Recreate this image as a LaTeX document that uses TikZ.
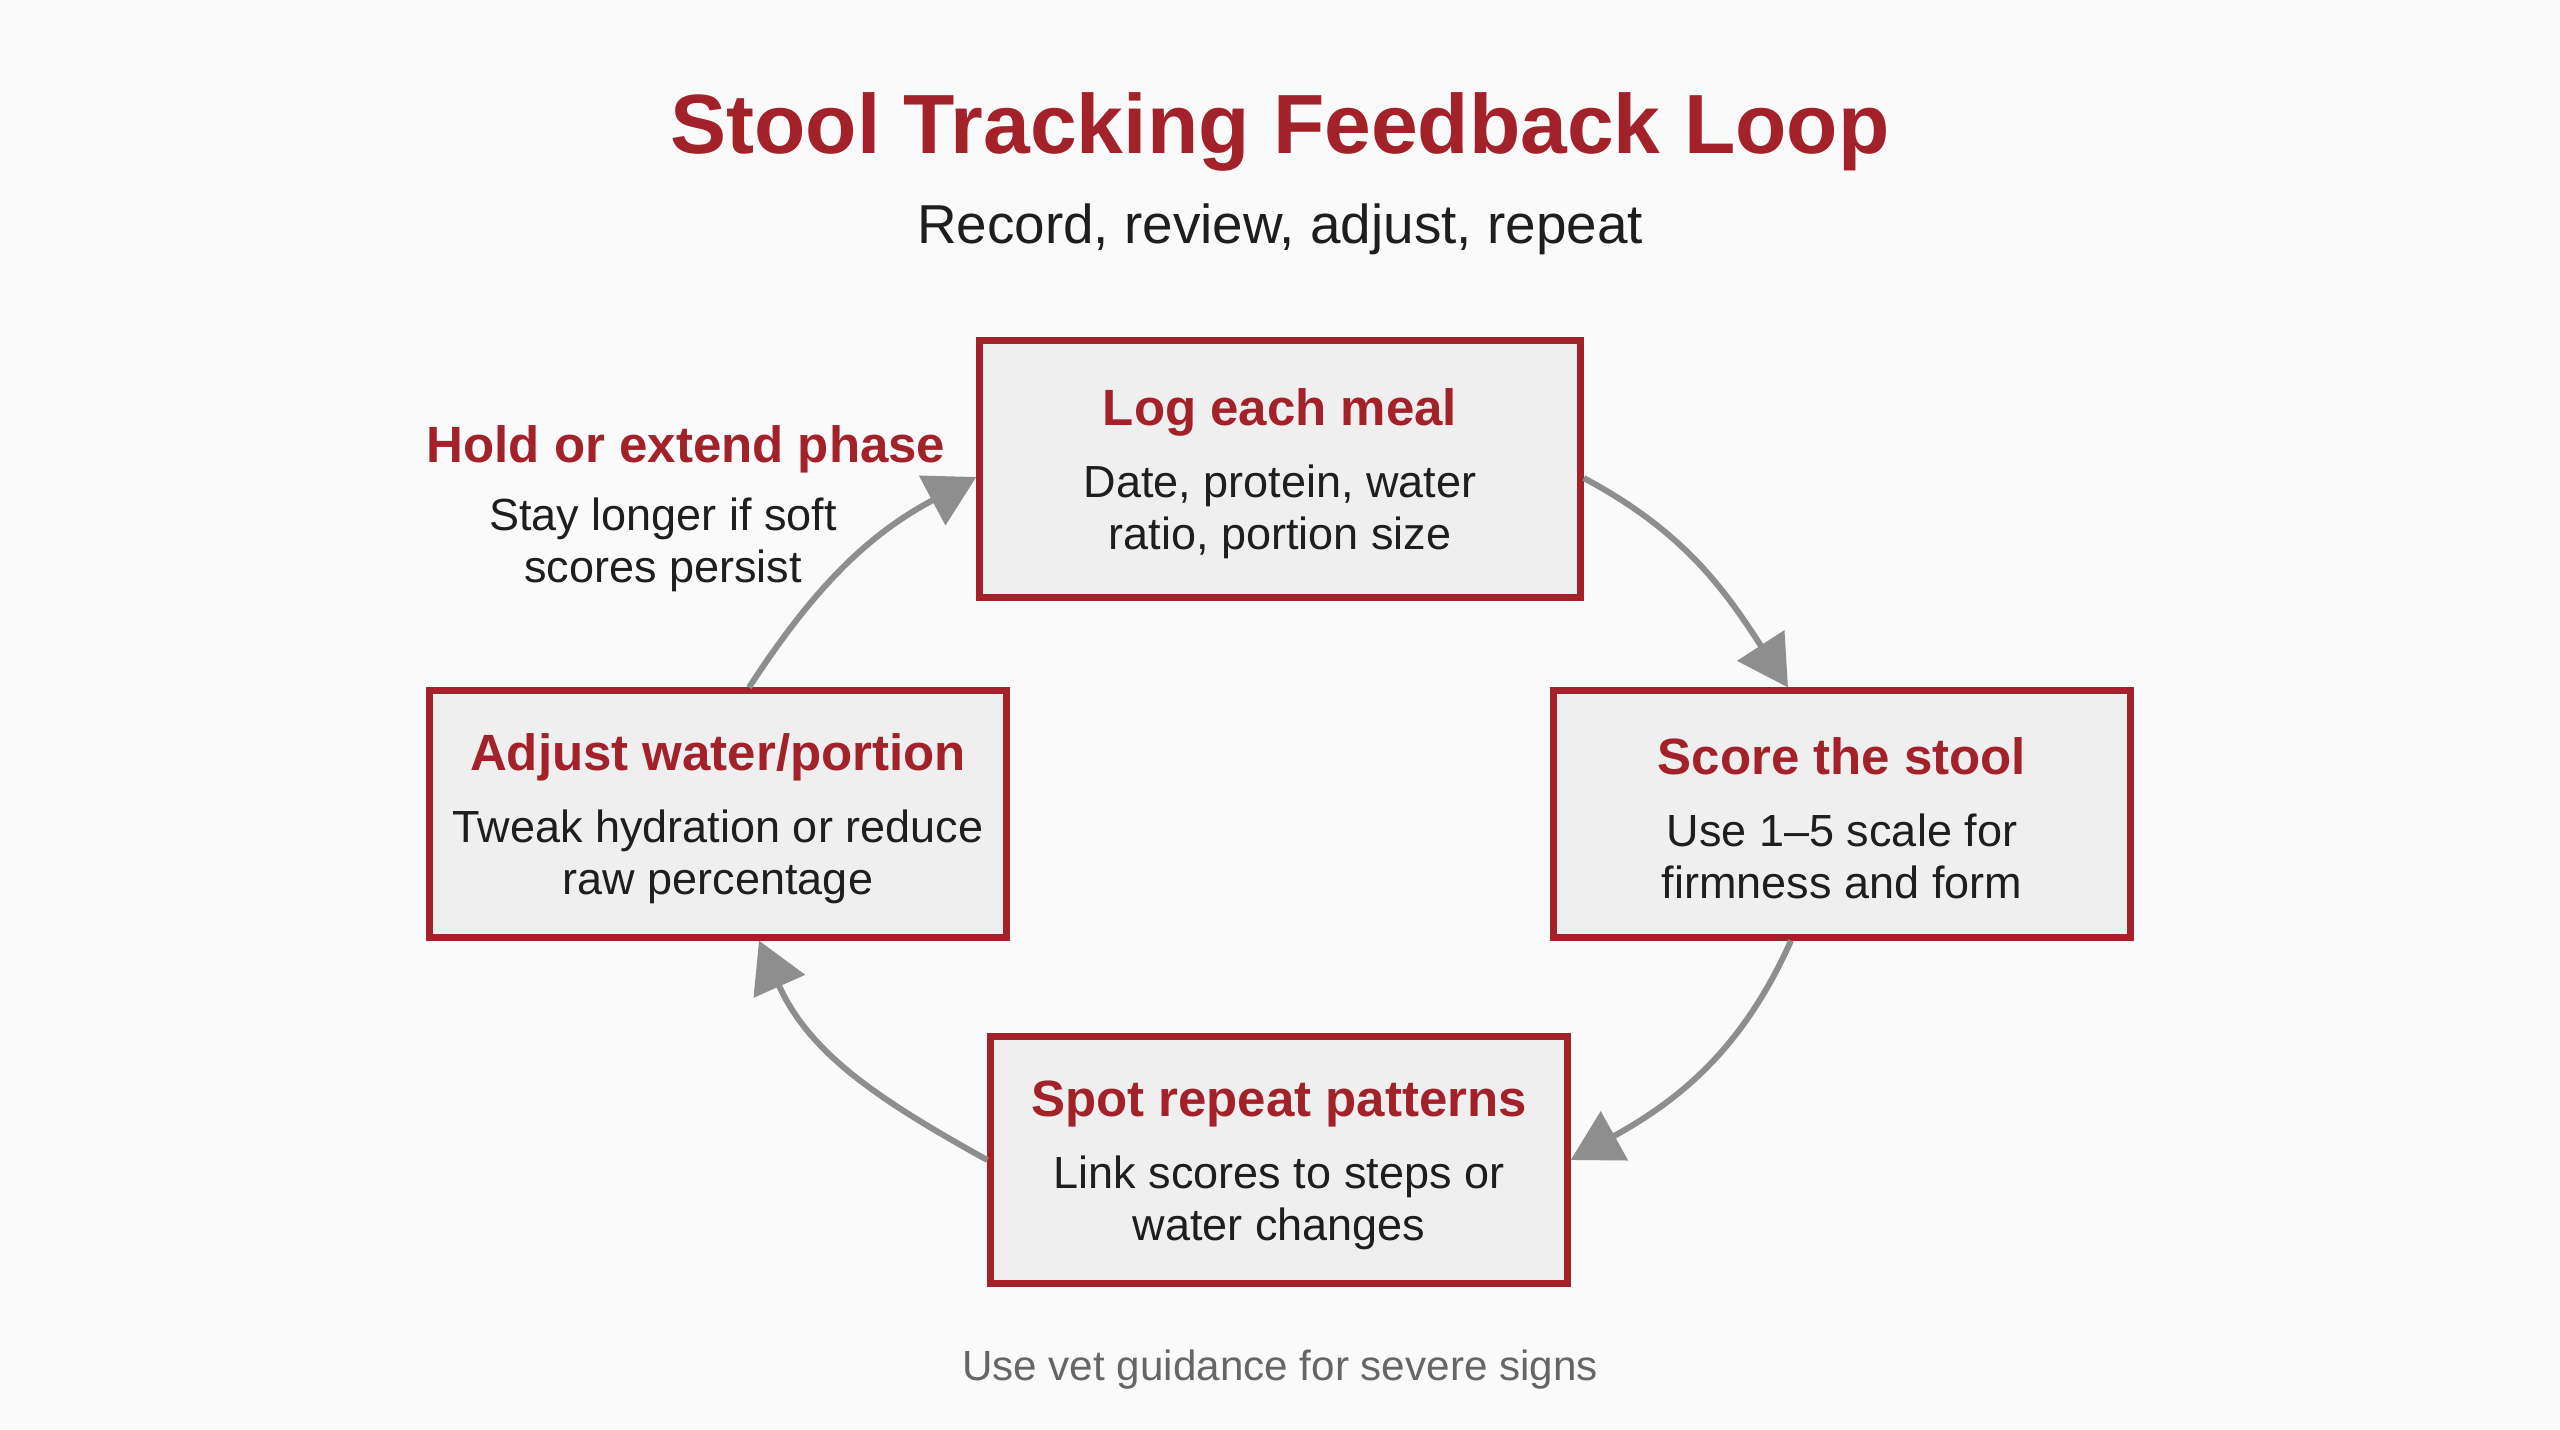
\documentclass[tikz,border=0pt]{standalone}
\usepackage{fontspec}
\setmainfont{Liberation Sans}
\usetikzlibrary{arrows.meta}

\definecolor{loopred}{HTML}{A3222A}
\definecolor{loopgray}{HTML}{8E8E8E}
\definecolor{boxfill}{HTML}{EFEFEF}
\definecolor{pagebg}{HTML}{FAFAFA}
\definecolor{notegray}{HTML}{666666}
\definecolor{inktext}{HTML}{1E1E1E}

\newcommand{\boxhead}[1]{{\fontsize{14.5}{17}\selectfont\bfseries\color{loopred}\rule{0pt}{13pt}#1}}

\tikzset{
  stepbox/.style={draw=loopred, line width=2pt, fill=boxfill, minimum width=5.76cm,
    minimum height=2.46cm, align=center, inner sep=0pt, text=inktext,
    font=\fontsize{12.8}{14.8}\selectfont},
  looparrow/.style={draw=loopgray, line width=1.7pt,
    -{Triangle[length=0.5cm,width=0.55cm]}},
}

\begin{document}
\begin{tikzpicture}[x=0.01cm,y=0.01cm]
\fill[pagebg] (0,0) rectangle (2560,-1429);
\node[text=loopred, font=\fontsize{23.9}{28}\selectfont\bfseries] (title) at (1280,-132) {Stool Tracking Feedback Loop};
\node[text=inktext, font=\fontsize{15.6}{18}\selectfont] (subtitle) at (1280,-229) {Record, review, adjust, repeat};

\node[stepbox, minimum width=6cm, minimum height=2.57cm] (log) at (1280,-469)
  {\boxhead{Log each meal}\\[5.7pt] Date, protein, water\\ ratio, portion size};
\node[stepbox] (score) at (1842,-814)
  {\boxhead{Score the stool}\\[5.7pt] Use 1--5 scale for\\ firmness and form};
\node[stepbox] (spot) at (1279,-1160)
  {\boxhead{Spot repeat patterns}\\[5.7pt] Link scores to steps or\\ water changes};
\node[stepbox] (adjust) at (718,-814)
  {\boxhead{Adjust water/portion}\\[5.7pt] Tweak hydration or reduce\\ raw percentage};

\node[text=loopred, font=\fontsize{14.5}{17}\selectfont\bfseries] (hold) at (686,-449) {Hold or extend phase};
\node[text=inktext, align=center, font=\fontsize{12.8}{14.8}\selectfont] (holdnote) at (663,-545) {Stay longer if soft\\ scores persist};

\draw[looparrow] ([yshift=-0.09cm]log.east) to[out=-28, in=123] ([xshift=-0.54cm]score.north);
\draw[looparrow] ([xshift=-0.51cm]score.south) to[out=-114, in=29] (spot.east);
\draw[looparrow] (spot.west) to[out=151, in=-66] ([xshift=0.41cm]adjust.south);
\draw[looparrow] ([xshift=0.31cm]adjust.north) to[out=57, in=208] ([yshift=-0.08cm]log.west);

\node[text=notegray, font=\fontsize{12}{14}\selectfont] (footer) at (1280,-1370) {Use vet guidance for severe signs};
\end{tikzpicture}
\end{document}
